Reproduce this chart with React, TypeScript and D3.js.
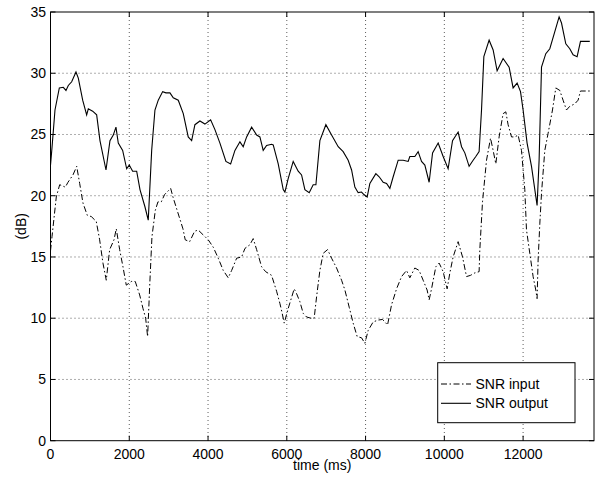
import React from "react";
import * as d3 from "d3";

const outT = [0,40,114,224,325,393,452,538,647,706,817,918,960,1071,1172,1256,1409,1510,1594,1662,1721,1832,1934,2000,2086,2188,2272,2398,2482,2569,2652,2736,2848,2931,3033,3117,3244,3371,3497,3584,3667,3794,3921,4066,4175,4302,4454,4574,4683,4810,4893,4980,5107,5234,5317,5401,5487,5614,5655,5782,5909,5952,6035,6162,6289,6375,6459,6569,6670,6739,6840,6992,7137,7305,7431,7558,7645,7728,7812,7898,7957,8041,8109,8261,8345,8447,8533,8617,8701,8828,8954,9081,9124,9251,9335,9421,9505,9614,9701,9843,9970,10096,10208,10350,10437,10520,10629,10731,10799,10883,10944,11003,11137,11239,11340,11492,11645,11746,11848,11934,12000,12101,12213,12355,12406,12467,12576,12678,12805,12914,12975,13084,13185,13269,13371,13457,13693];
const outV = [22.5,24.0,27.0,28.8,28.85,28.6,29.0,29.3,30.1,29.6,27.8,26.6,27.1,26.9,26.6,24.5,22.1,24.5,24.95,25.6,24.3,23.7,22.2,22.5,22.0,22.0,20.5,19.1,18.0,23.7,27.0,27.8,28.5,28.4,28.4,28.0,27.8,26.7,24.8,24.5,25.8,26.1,25.85,26.2,25.4,24.3,22.8,22.6,23.7,24.4,24.0,24.8,25.6,24.95,24.8,23.7,24.1,24.2,24.15,22.6,20.5,20.3,21.4,22.8,22.0,21.7,20.5,20.25,20.9,20.9,24.5,25.8,24.95,24.0,23.6,22.9,22.1,20.7,20.25,20.3,20.1,19.9,21.0,21.8,21.55,21.1,21.0,20.6,21.55,22.9,22.9,22.8,23.2,23.2,23.6,22.8,22.5,21.1,23.5,24.3,23.2,22.2,24.5,25.2,24.0,23.5,22.4,22.9,23.2,23.6,27.0,31.35,32.7,31.9,30.2,31.2,30.5,28.8,29.2,28.5,27.0,24.3,22.4,19.2,22.9,30.5,31.6,32.0,33.4,34.6,34.1,32.4,32.0,31.5,31.35,32.6,32.6];

const inT = [0,38,147,233,376,444,571,665,741,825,934,1036,1162,1248,1332,1416,1502,1612,1670,1756,1840,1924,2051,2152,2264,2348,2416,2466,2518,2576,2661,2728,2813,2898,3051,3109,3236,3363,3421,3533,3660,3751,3878,4005,4132,4259,4386,4513,4599,4726,4853,4937,5063,5147,5234,5360,5462,5614,5741,5825,5883,5934,6036,6188,6249,6332,6416,6503,6612,6695,6756,6840,6924,7036,7137,7264,7391,7475,7584,7685,7787,7898,7982,8066,8193,8320,8431,8558,8660,8787,8914,9041,9124,9251,9360,9462,9563,9614,9675,9784,9868,9970,10071,10140,10223,10350,10462,10563,10665,10774,10883,10901,10969,11071,11173,11239,11307,11391,11492,11561,11619,11706,11789,11873,11959,12043,12086,12170,12254,12322,12355,12381,12424,12467,12551,12635,12746,12830,12931,13015,13102,13185,13312,13396,13457,13693];
const inV = [15.5,16.65,19.9,20.9,20.7,21.1,21.7,22.4,21.0,19.4,18.4,18.3,17.9,16.4,14.5,13.1,15.6,16.4,17.3,15.6,14.2,12.7,13.0,13.0,11.9,10.8,10.0,8.5,12.6,16.65,18.8,19.5,19.5,20.1,20.6,19.9,18.6,17.3,16.4,16.25,17.1,17.2,16.8,16.4,15.8,14.9,13.9,13.3,13.9,14.9,15.0,15.7,16.0,16.5,15.6,14.2,13.8,13.5,12.2,11.2,10.4,9.6,10.8,12.4,12.0,11.35,10.4,10.1,10.0,10.0,11.75,13.9,15.3,15.6,14.9,14.1,13.1,12.3,10.9,9.6,8.5,8.4,7.95,9.0,9.7,9.85,9.9,9.45,11.1,12.4,13.4,13.9,13.3,14.1,13.9,13.1,12.3,11.5,12.4,14.2,14.5,13.8,12.4,13.7,15.0,16.25,15.0,13.4,13.5,13.7,13.8,15.6,19.5,22.9,24.7,23.7,22.6,24.8,26.7,26.85,25.8,24.8,24.8,24.95,23.7,20.5,17.2,15.3,13.4,12.3,11.6,14.75,17.7,20.2,23.7,25.1,27.0,28.8,28.6,27.8,27.0,27.3,27.5,27.8,28.55,28.55];

const xTicks = [0, 2000, 4000, 6000, 8000, 10000, 12000];
const yTicks = [0, 5, 10, 15, 20, 25, 30, 35];
const seriesNames = ["SNR input", "SNR output"];
const xLabel = "time (ms)";
const yLabel = "(dB)";

export default function App() {
  const W = 599, H = 477;
  const L = 50.5, R = 594, T = 12, B = 440.7;
  const x = d3.scaleLinear().domain([0, 13800]).range([L, R]);
  const y = d3.scaleLinear().domain([0, 35]).range([B, T]);
  const line = d3.line<[number, number]>().x(d => x(d[0])).y(d => y(d[1]));
  const outPts = outT.map((t, i) => [t, outV[i]] as [number, number]);
  const inPts = inT.map((t, i) => [t, inV[i]] as [number, number]);
  const font = "'Liberation Sans', Arial, Helvetica, sans-serif";
  const tl = 5;
  const dashIn = "6,2.5,1.5,2.5";
  const lgX = 437.7, lgY = 362.7, lgW = 137.3, lgH = 60;
  return (
    <svg width={W} height={H} style={{ position: "absolute", left: 0, top: 0, background: "#fff" }} fontFamily={font}>
      <rect x={0} y={0} width={W} height={H} fill="#fff" />
      {/* grid */}
      {xTicks.slice(1).map(t => (
        <line key={"gx" + t} x1={x(t)} x2={x(t)} y1={T} y2={B} stroke="#333" strokeWidth={0.8} strokeDasharray="1,3" />
      ))}
      {yTicks.slice(1, -1).map(t => (
        <line key={"gy" + t} x1={L} x2={R} y1={y(t)} y2={y(t)} stroke="#333" strokeWidth={0.8} strokeDasharray="1,3" />
      ))}
      {/* data */}
      <path d={line(inPts) || ""} fill="none" stroke="#000" strokeWidth={1} strokeDasharray={dashIn} />
      <path d={line(outPts) || ""} fill="none" stroke="#000" strokeWidth={1.1} />
      {/* frame */}
      <rect x={L} y={T} width={R - L} height={B - T} fill="none" stroke="#000" strokeWidth={1} />
      {/* ticks */}
      {xTicks.map(t => (
        <g key={"tx" + t}>
          <line x1={x(t)} x2={x(t)} y1={B} y2={B - tl} stroke="#000" />
          <line x1={x(t)} x2={x(t)} y1={T} y2={T + tl} stroke="#000" />
          <text x={x(t)} y={459} textAnchor="middle" fontSize={14} fill="#000">{t}</text>
        </g>
      ))}
      {yTicks.map(t => (
        <g key={"ty" + t}>
          <line x1={L} x2={L + tl} y1={y(t)} y2={y(t)} stroke="#000" />
          <line x1={R} x2={R - tl} y1={y(t)} y2={y(t)} stroke="#000" />
          <text x={46} y={y(t) + 5} textAnchor="end" fontSize={14} fill="#000">{t}</text>
        </g>
      ))}
      <text x={(L + R) / 2} y={470} textAnchor="middle" fontSize={14} fill="#000">{xLabel}</text>
      <text transform={`translate(26,${(T + B) / 2}) rotate(-90)`} textAnchor="middle" fontSize={14} fill="#000">{yLabel}</text>
      {/* legend */}
      <rect x={lgX} y={lgY} width={lgW} height={lgH} fill="#fff" stroke="#000" strokeWidth={1} />
      <line x1={441} x2={471} y1={384} y2={384} stroke="#000" strokeWidth={1} strokeDasharray={dashIn} />
      <text x={475.5} y={389} fontSize={14} fill="#000">{seriesNames[0]}</text>
      <line x1={441} x2={471} y1={403.3} y2={403.3} stroke="#000" strokeWidth={1.1} />
      <text x={475.5} y={408.3} fontSize={14} fill="#000">{seriesNames[1]}</text>
    </svg>
  );
}
